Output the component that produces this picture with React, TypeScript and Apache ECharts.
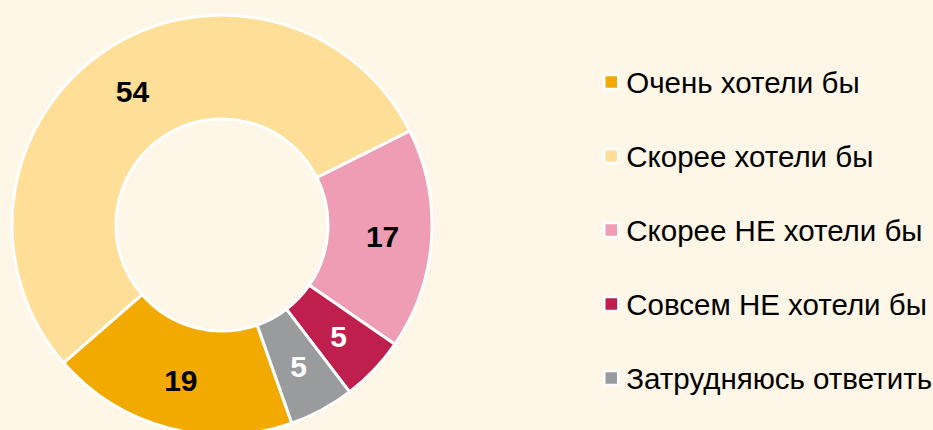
import React, { useEffect, useRef } from "react";
import * as echarts from "echarts";

const categories = [
  "Очень хотели бы",
  "Скорее хотели бы",
  "Скорее НЕ хотели бы",
  "Совсем НЕ хотели бы",
  "Затрудняюсь ответить",
];
const values = [19, 54, 17, 5, 5];
const colors = ["#F2AA00", "#FFDF98", "#EE9DB4", "#BE1F4D", "#9A9B9D"];
const labelColors = ["#000000", "#000000", "#000000", "#FFFFFF", "#FFFFFF"];

const FONT = 'Arial, "Liberation Sans", sans-serif';

export default function App() {
  const ref = useRef<HTMLDivElement>(null);
  useEffect(() => {
    if (!ref.current) return;
    const chart = echarts.init(ref.current, undefined, { renderer: "svg" });
    chart.setOption({
      animation: false,
      backgroundColor: "#FEF6E6",
      color: colors,
      legend: {
        orient: "vertical",
        left: 603,
        top: 67,
        padding: 0,
        itemWidth: 14,
        itemHeight: 14,
        itemGap: 44,
        icon: "rect",
        itemStyle: { borderColor: "#FFFFFF", borderWidth: 2.5 },
        textStyle: {
          fontFamily: FONT,
          fontSize: 29.5,
          lineHeight: 30,
          color: "#000000",
          padding: [0, 0, 0, 3],
        },
        data: categories,
      },
      series: [
        {
          type: "pie",
          center: [222, 225],
          radius: [106, 210],
          startAngle: 289.4,
          clockwise: true,
          avoidLabelOverlap: false,
          itemStyle: { borderColor: "#FFFFFF", borderWidth: 3 },
          label: {
            show: true,
            position: "inside",
            formatter: "{c}",
            fontFamily: FONT,
            fontSize: 30,
            fontWeight: "bold",
          },
          labelLine: { show: false },
          emphasis: { disabled: true },
          data: categories.map((name, i) => ({
            name,
            value: values[i],
            label: { color: labelColors[i] },
          })),
        },
      ],
    });
    return () => chart.dispose();
  }, []);
  return (
    <div
      ref={ref}
      style={{ position: "fixed", left: 0, top: 0, width: 933, height: 430 }}
    />
  );
}
